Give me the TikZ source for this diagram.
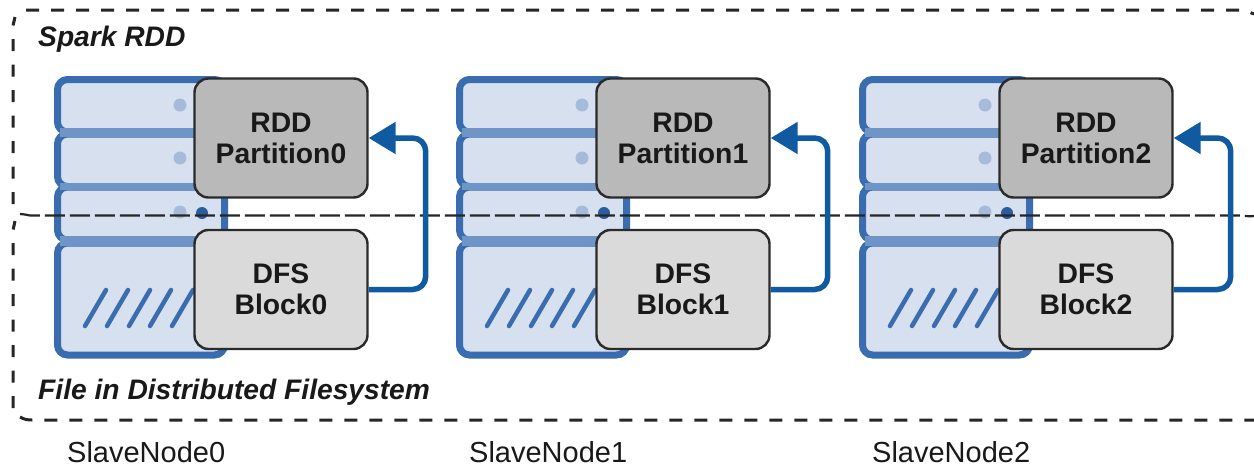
\documentclass[tikz,border=0pt]{standalone}
\usepackage{fontspec}
\setmainfont{Liberation Sans}
\usetikzlibrary{arrows.meta,calc}
\definecolor{srvfill}{HTML}{D7E0EE}
\definecolor{srvline}{HTML}{3A6CB0}
\definecolor{srvband}{HTML}{6E94C8}
\definecolor{dotl}{HTML}{A6BADA}
\definecolor{dotd}{HTML}{2C5C9E}
\definecolor{arrowc}{HTML}{0F5AA0}
\definecolor{rddfill}{HTML}{B9B9B9}
\definecolor{dfsfill}{HTML}{DADADA}
\definecolor{boxline}{HTML}{2A2A2A}
\tikzset{
  unitbox/.style={draw=boxline,line width=2.4pt,rounded corners=14pt,minimum width=173pt,minimum height=119pt,align=center,inner sep=0pt,text=black!90,font=\fontsize{28.3}{31}\selectfont\bfseries},
  rddbox/.style={unitbox,fill=rddfill},
  dfsbox/.style={unitbox,fill=dfsfill},
  flow/.style={draw=arrowc,line width=5.5pt,rounded corners=13pt,-{Triangle[length=27pt,width=31pt]}},
  srvrow/.style={draw=srvline,fill=srvfill,line width=7pt,rounded corners=10pt},
  hatch/.style={draw=srvline,line width=4.5pt,line cap=round},
  arealine/.style={draw=black!85,line width=3pt,dash pattern=on 12pt off 13.5pt},
  topline/.style={draw=black!85,line width=3pt,dash pattern=on 13pt off 12pt},
  midline/.style={draw=black!85,line width=2.2pt,dash pattern=on 20pt off 5pt},
  arealabel/.style={anchor=base west,inner sep=0pt,font=\fontsize{28.2}{31}\selectfont\bfseries\itshape,text=black!90},
  nodelabel/.style={anchor=base west,inner sep=0pt,font=\fontsize{29}{31}\selectfont,text=black!90}
}
\newcommand{\column}[3]{%
\begin{scope}[xshift=#1pt]
  \path[srvrow] (57.5,79.5) rectangle (224.5,132);
  \path[srvrow] (57.5,134) rectangle (224.5,186.5);
  \path[srvrow] (57.5,187) rectangle (224.5,240);
  \path[srvrow] (57.5,243) rectangle (224.5,355);
  \fill[srvband] (60,128) rectangle (222,137);
  \fill[srvband] (60,183) rectangle (222,190);
  \fill[srvband] (60,236) rectangle (222,246);
  \foreach \cy in {105,158,212} \fill[dotl] (180,\cy) circle (6.5pt);
  \fill[dotd] (202,213) circle (6pt);
  \foreach \hx in {85,107,129,150,172} \draw[hatch] (\hx,326) -- ++(21,-36);
  \node[rddbox] (rdd#2) at (281,138) {RDD\\Partition#3};
  \node[dfsbox] (dfs#2) at (281,289.5) {DFS\\Block#3};
  \node[nodelabel] (slave#2) at (67,462.5) {SlaveNode#3};
\end{scope}}
\begin{document}
\begin{tikzpicture}[x=1pt,y=-1pt]
\useasboundingbox (0,0) rectangle (1254,469);
\fill[white] (0,0) rectangle (1254,469);
\column{0}{a}{0}
\column{402}{b}{1}
\column{805}{c}{2}
\path[topline] (26,10) -- (1240,10) to[out=0,in=160] (1254,14);
\path[arealine] (13,204) -- (13,28) to[out=90,in=-100] (15,17);
\path[midline] (20,214) to[out=10,in=180] (30,215.5) -- (1240,215.5) to[out=0,in=190] (1254,216);
\path[arealine] (13,408) -- (13,233) to[out=90,in=-100] (15,221);
\path[topline] (20,417) to[out=-30,in=180] (32,420) -- (1254,420);
\foreach \n in {a,b,c} \draw[flow] (dfs\n.east) -- ++(57,0) |- (rdd\n.east);
\node[arealabel] (spark) at (38,46) {Spark RDD};
\node[arealabel] (file) at (38,399) {File in Distributed Filesystem};
\end{tikzpicture}
\end{document}
